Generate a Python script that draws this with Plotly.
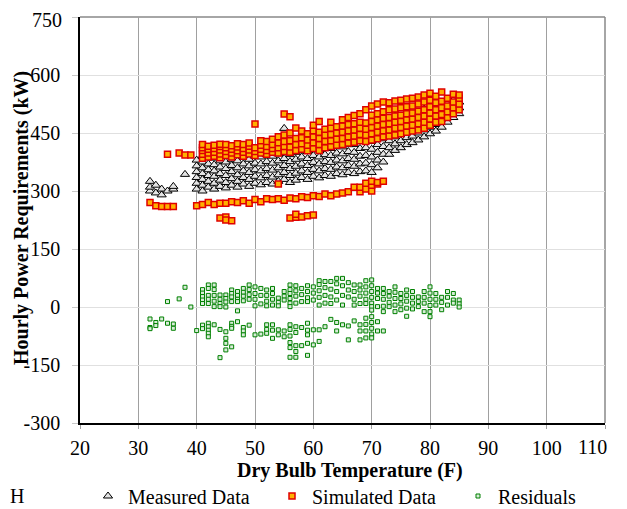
import plotly.graph_objects as go

# ---------------- data ----------------
meas_temps = [32, 33, 34, 35, 36, 38, 40, 41, 42, 43, 44, 45, 46, 47, 48, 49, 50,
              51, 52, 53, 54, 55, 56, 57, 58, 59, 60, 61, 62, 63, 64, 65, 66, 67,
              68, 69, 70, 71, 72, 73, 74, 75, 76, 77, 78, 79, 80, 81, 82, 83, 84, 85]
meas_vals = [
    [300, 310, 325], [295, 315], [290, 305], [300], [305, 312], [343],
    [305, 320, 335, 350, 365, 380], [300, 315, 330, 345, 360, 375, 390],
    [310, 325, 340, 355, 370], [305, 320, 338, 352, 368, 385],
    [312, 328, 345, 362, 378], [308, 322, 340, 358, 375, 395],
    [315, 332, 350, 366, 382], [310, 325, 342, 360, 378],
    [318, 335, 352, 370, 388], [312, 330, 348, 365, 382, 400],
    [320, 338, 355, 372, 390], [316, 334, 352, 370, 388],
    [322, 340, 358, 376, 394], [318, 336, 354, 372, 390, 405],
    [325, 342, 360, 378, 396], [330, 348, 366, 384, 402, 462],
    [322, 340, 358, 376, 394, 412], [328, 346, 364, 382, 400],
    [335, 352, 370, 388, 406], [330, 348, 366, 384, 402, 420],
    [338, 356, 374, 392, 410], [334, 352, 370, 388, 406, 424],
    [340, 358, 376, 394, 412, 430], [338, 356, 374, 392, 410, 428],
    [345, 362, 380, 398, 416, 434], [342, 360, 378, 396, 414, 438],
    [348, 366, 384, 402, 420, 440], [345, 364, 382, 400, 420, 445],
    [350, 370, 390, 410, 430, 450], [352, 372, 392, 412, 432, 455],
    [348, 368, 388, 408, 428, 450, 475], [360, 380, 400, 420, 440, 462, 480],
    [375, 395, 415, 435, 455, 478], [395, 412, 430, 448, 466, 485],
    [405, 422, 440, 458, 476, 495], [412, 430, 448, 466, 484, 505],
    [420, 438, 456, 474, 492], [425, 442, 460, 478, 496, 512],
    [432, 450, 468, 486, 504], [440, 458, 476, 494, 512],
    [448, 465, 482, 500, 518], [455, 472, 490, 508, 525],
    [465, 482, 500, 515], [478, 495, 510, 528], [490, 505, 520, 535],
    [500, 515, 530],
]

sim_temps = [32, 33, 34, 35, 36, 37, 38, 39, 40, 41, 42, 43, 44, 45, 46, 47, 48,
             49, 50, 51, 52, 53, 54, 55, 56, 57, 58, 59, 60, 61, 62, 63, 64, 65,
             66, 67, 68, 69, 70, 71, 72, 73, 74, 75, 76, 77, 78, 79, 80, 81, 82,
             83, 84, 85]
sim_vals = [
    [270], [262], [260], [260, 395], [260], [398], [393], [393], [262],
    [265, 385, 395, 405, 412, 420], [270, 388, 398, 408, 416],
    [265, 390, 400, 410, 418], [268, 230, 386, 396, 406, 415, 421],
    [268, 233, 225, 392, 402, 412, 420], [272, 223, 388, 398, 408, 417],
    [270, 394, 404, 414, 422], [275, 390, 400, 410, 420],
    [268, 396, 406, 416, 424], [278, 392, 402, 412, 473],
    [272, 398, 408, 418, 430], [280, 395, 405, 415, 428],
    [278, 400, 410, 420, 434], [280, 318, 398, 412, 425, 440],
    [276, 402, 415, 428, 445, 499], [282, 230, 400, 414, 430, 450, 492],
    [280, 232, 240, 405, 420, 436, 463], [285, 233, 408, 422, 438, 455],
    [283, 236, 404, 418, 432, 448], [288, 238, 410, 425, 440, 456, 470],
    [286, 405, 420, 436, 452, 480], [292, 412, 428, 444, 460],
    [288, 415, 430, 446, 462, 478], [292, 418, 434, 450, 466],
    [295, 420, 436, 452, 468, 484], [298, 424, 440, 456, 472, 490],
    [310, 426, 442, 458, 474, 495], [298, 310, 430, 446, 462, 478, 500],
    [305, 320, 428, 444, 460, 476, 510], [300, 315, 325, 432, 448, 464, 480, 496, 520],
    [318, 322, 435, 452, 468, 484, 500, 525], [325, 440, 456, 472, 488, 505, 530],
    [442, 458, 474, 490, 510, 528], [445, 462, 478, 494, 512, 533],
    [448, 464, 480, 496, 515, 535], [452, 468, 484, 500, 518, 538],
    [455, 470, 486, 502, 520, 540], [458, 474, 490, 506, 525, 543],
    [462, 478, 494, 510, 530, 548], [470, 486, 502, 518, 535, 553],
    [478, 494, 510, 528, 545], [480, 498, 515, 532, 556],
    [490, 505, 520, 540], [500, 515, 530, 550], [510, 525, 540, 548],
]

res_temps = [32, 33, 34, 35, 36, 37, 38, 39, 40, 41, 42, 43, 44, 45, 46, 47, 48,
             49, 50, 51, 52, 53, 54, 55, 56, 57, 58, 59, 60, 61, 62, 63, 64, 65,
             66, 67, 68, 69, 70, 71, 72, 73, 74, 75, 76, 77, 78, 79, 80, 81, 82,
             83, 84, 85]
res_vals = [
    [-31, -53, -56], [-40, -48], [-31], [14, -42], [-44, -55], [21], [51], [0],
    [-61], [45, 36, 27, 18, 9, -47, -56], [57, 48, 30, 20, 9, -42, -51, -60, -68, -77],
    [57, 45, 30, 15, 1, -46], [31, 20, 9, 1, -58, -131],
    [31, 22, 13, 0, -64, -81, -94, -111], [44, 35, 26, 14, -42, -50, -55, -103],
    [40, 30, 20, 14, -10, -38], [48, 38, 28, 16, -53, -62, -72],
    [57, 45, 32, 20, -47], [52, 35, 20, 3, -72], [48, 30, 8, -70],
    [44, 30, 15, 3, -46, -58, -68], [48, 35, 20, 5, -46, -60, -81],
    [23, 12, 3, -59, -72], [40, 28, 18, -62, -77],
    [57, 45, 35, 22, 10, 1, -46, -58, -75, -92, -105, -130],
    [55, 42, 28, 10, -51, -66, -100, -115, -130], [48, 32, 14, -53, -100],
    [55, 40, 24, 14, -42, -60, -72, -94, -125], [52, 36, 18, -59, -98],
    [68, 58, 42, 25, 5, -59, -89], [66, 50, 30, 10, -51], [66, 46, 26, 9, -32],
    [74, 60, 40, 18, -40, -62], [74, 55, 30, 5, -46], [63, 44, 26, -49, -85],
    [57, 40, 20, 5, -36], [57, 44, 28, 9, -46, -62, -85],
    [68, 52, 36, 20, 9, -29, -45, -62, -80],
    [70, 55, 40, 25, 10, 1, -8, -25, -40, -55, -70, -80],
    [48, 36, 22, 1, -38, -62], [48, 35, 20, 2, -12, -62], [40, 28, 12, 1],
    [52, 38, 22, 5, -12], [35, 22, 8, -7], [44, 30, 15, -3, -24], [40, 25, 10, -5],
    [26, 14, 1], [40, 25, 10, -12], [52, 36, 20, 4, -12, -25], [35, 20, 5],
    [25, 12, -7], [40, 25, 5], [35, 18, 10], [18, 8, 0],
]

x_ticks = [20, 30, 40, 50, 60, 70, 80, 90, 100, 110]
x_tick_labels = ["20", "30", "40", "50", "60", "70", "80", "90", "100", ""]
last_x_label = "110"
y_ticks = [-300, -150, 0, 150, 300, 450, 600, 750]
y_tick_labels = ["-300", "-150", "0", "150", "300", "450", "600", ""]
top_y_label = "750"

x_title = "Dry Bulb Temperature (F)"
y_title = "Hourly Power Requirements (kW)"


def expand(temps, vals):
    xs, ys = [], []
    for t, col in zip(temps, vals):
        for v in col:
            xs.append(t)
            ys.append(v)
    return xs, ys


mx, my = expand(meas_temps, meas_vals)
sx, sy = expand(sim_temps, sim_vals)
rx, ry = expand(res_temps, res_vals)

FONT = "Liberation Serif"
FS = 20

# the page body has an 8px margin, so the figure is drawn 8px in from the window edge
OFF = 8
WIN_W, WIN_H = 627, 509
W, H = WIN_W - OFF, WIN_H - OFF
# plot area in window pixels: x 80..605, y 17..423
L, R, T, B = 80 - OFF, WIN_W - 605, 17 - OFF, WIN_H - 423
PW, PH = W - L - R, H - T - B


def px_x(p):  # window pixel -> paper fraction
    return (p - OFF - L) / PW


def px_y(p):
    return (H - B - (p - OFF)) / PH


fig = go.Figure()
fig.add_trace(go.Scatter(
    x=mx, y=my, mode="markers", name="Measured Data", legendwidth=139,
    marker=dict(symbol="triangle-up", size=8, color="#e4e4e4",
                line=dict(color="#000000", width=1)),
))
fig.add_trace(go.Scatter(
    x=sx, y=sy, mode="markers", name="Simulated Data", legendwidth=141,
    marker=dict(symbol="square", size=6, color="#FFB000",
                line=dict(color="#E00000", width=1.5)),
))
fig.add_trace(go.Scatter(
    x=rx, y=ry, mode="markers", name="Residuals", legendwidth=85,
    marker=dict(symbol="square", size=4, color="#d9ecd9",
                line=dict(color="#008000", width=1)),
))

# gray top/right border
fig.add_shape(type="line", xref="x domain", yref="y domain", x0=0, x1=1, y0=1, y1=1,
              line=dict(color="#888888", width=1.5), layer="below")
fig.add_shape(type="line", xref="x domain", yref="y domain", x0=1, x1=1, y0=0, y1=1,
              line=dict(color="#888888", width=1.5), layer="below")

# last x tick label (pulled inside like the original)
fig.add_annotation(text=last_x_label, xref="paper", yref="paper",
                   x=px_x(592), y=px_y(447), xanchor="center", yanchor="middle",
                   showarrow=False, font=dict(family=FONT, size=FS, color="black"))
# top y tick label (kept inside the page)
fig.add_annotation(text=top_y_label, xref="paper", yref="paper",
                   x=px_x(63), y=px_y(8), xanchor="right", yanchor="top",
                   showarrow=False, borderpad=0,
                   font=dict(family=FONT, size=FS, color="black"))
# axis titles
fig.add_annotation(text="<b>" + x_title + "</b>", xref="paper", yref="paper",
                   x=px_x(350), y=px_y(470), xanchor="center", yanchor="middle",
                   showarrow=False, font=dict(family=FONT, size=FS, color="black"))
fig.add_annotation(text="<b>" + y_title + "</b>", xref="paper", yref="paper",
                   x=px_x(21), y=px_y(218), xanchor="center", yanchor="middle",
                   textangle=-90, showarrow=False,
                   font=dict(family=FONT, size=FS, color="black"))
# stray glyph at bottom-left of the original
fig.add_annotation(text="H", xref="paper", yref="paper", x=px_x(8), y=px_y(496),
                   xanchor="left", yanchor="middle", showarrow=False,
                   font=dict(family=FONT, size=FS, color="black"))

fig.update_layout(
    width=W, height=H,
    margin=dict(l=L, r=R, t=T, b=B, autoexpand=False),
    paper_bgcolor="white", plot_bgcolor="white",
    font=dict(family=FONT, size=FS, color="black"),
    showlegend=True,
    legend=dict(orientation="h", x=px_x(88), xanchor="left", y=px_y(496),
                yanchor="middle", font=dict(family=FONT, size=FS),
                itemsizing="trace", bgcolor="rgba(0,0,0,0)", borderwidth=0),
    xaxis=dict(
        range=[20, 110], tickvals=x_ticks, ticktext=x_tick_labels,
        showgrid=True, gridcolor="#a0a0a0", gridwidth=1,
        showline=True, linecolor="black", linewidth=1.5,
        ticks="outside", ticklen=4, tickcolor="#a0a0a0",
        zeroline=False, automargin=False, ticklabelstandoff=2,
        ticklabeloverflow="allow",
        tickfont=dict(family=FONT, size=FS),
    ),
    yaxis=dict(
        range=[-300, 750], tickvals=y_ticks, ticktext=y_tick_labels,
        showgrid=True, gridcolor="#e0e0e0", gridwidth=1,
        showline=True, linecolor="black", linewidth=1.5,
        ticks="outside", ticklen=6, tickcolor="#c8c8c8",
        zeroline=False, automargin=False, ticklabelstandoff=8,
        ticklabeloverflow="allow",
        tickfont=dict(family=FONT, size=FS),
    ),
)

fig.write_html("out.html")
